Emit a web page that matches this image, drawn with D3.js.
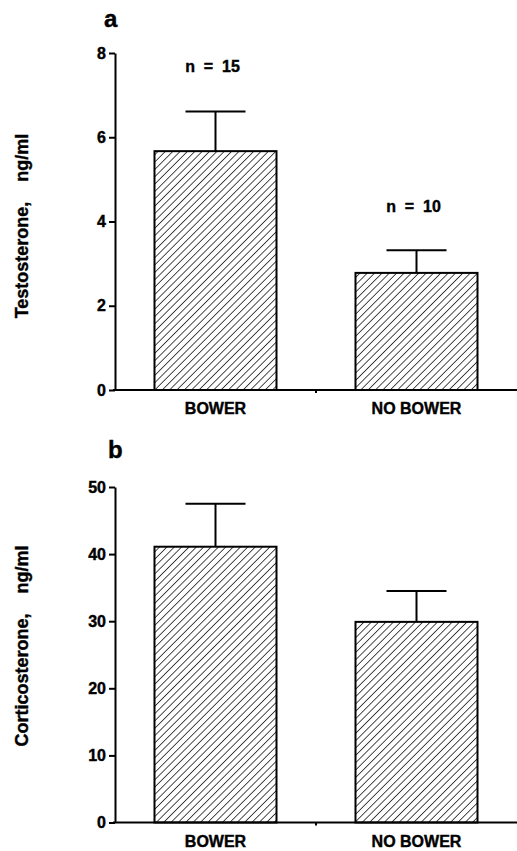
<!DOCTYPE html>
<html>
<head>
<meta charset="utf-8">
<script src="https://cdn.jsdelivr.net/npm/d3@7"></script>
<style>
  body { margin: 0; background: #fff; }
  text { font-family: 'Liberation Sans', Arial, sans-serif; font-weight: bold; fill: #000; stroke: #000; stroke-width: 0.4; }
  .axis path, .axis line { stroke: #000; stroke-width: 2; }
</style>
</head>
<body>
<svg id="chart" width="517" height="851"></svg>
<script>
// Data
var categories = ['BOWER', 'NO BOWER'];
var testosterone = [5.67, 2.78];
var testosteroneErr = [6.61, 3.32];   // top of error bar
var corticosterone = [41.1, 29.9];
var corticosteroneErr = [47.5, 34.5];
var sampleSizes = ['n  =  15', 'n  =  10'];
var testTicks = [0, 2, 4, 6, 8];
var cortTicks = [0, 10, 20, 30, 40, 50];

var svg = d3.select('#chart');

// hatch pattern for bars
var defs = svg.append('defs');
defs.append('pattern')
  .attr('id', 'hatch')
  .attr('patternUnits', 'userSpaceOnUse')
  .attr('width', 5.2)
  .attr('height', 5.2)
  .attr('patternTransform', 'rotate(45)')
  .append('line')
  .attr('x1', 0).attr('y1', 0)
  .attr('x2', 0).attr('y2', 5.2)
  .attr('stroke', '#000')
  .attr('stroke-width', 1.4);

var x = d3.scaleBand()
  .domain(categories)
  .range([115, 517])
  .paddingInner(0.393)
  .paddingOuter(0.1965);

function drawPanel(opts) {
  var y = d3.scaleLinear().domain(opts.domain).range(opts.range);
  var g = svg.append('g');

  // bars
  g.selectAll('.bar')
    .data(opts.values)
    .enter().append('rect')
    .attr('class', 'bar')
    .attr('x', function(d, i) { return x(categories[i]); })
    .attr('width', x.bandwidth())
    .attr('y', function(d) { return y(d); })
    .attr('height', function(d) { return y(0) - y(d); })
    .attr('fill', 'url(#hatch)')
    .attr('stroke', '#000')
    .attr('stroke-width', 2);

  // error bars
  opts.errs.forEach(function(e, i) {
    var cx = x(categories[i]) + x.bandwidth() / 2;
    g.append('line')
      .attr('x1', cx).attr('x2', cx)
      .attr('y1', y(opts.values[i])).attr('y2', y(e))
      .attr('stroke', '#000').attr('stroke-width', 2);
    g.append('line')
      .attr('x1', cx - 30).attr('x2', cx + 30)
      .attr('y1', y(e)).attr('y2', y(e))
      .attr('stroke', '#000').attr('stroke-width', 2);
  });

  // y axis
  var yAxis = d3.axisLeft(y).tickValues(opts.ticks).tickSize(6).tickSizeOuter(0).tickPadding(3);
  var ya = g.append('g')
    .attr('class', 'axis')
    .attr('transform', 'translate(115,0)')
    .call(yAxis);
  ya.selectAll('text').style('font-size', '16px');

  // x axis
  var xAxis = d3.axisBottom(x).tickSize(0).tickSizeOuter(0).tickPadding(13);
  var xa = g.append('g')
    .attr('class', 'axis')
    .attr('transform', 'translate(0,' + y(0) + ')')
    .call(xAxis);
  xa.selectAll('text').style('font-size', '16px');
  xa.select('.domain').attr('d', 'M113,0H517');
  // small mark between the categories
  xa.append('line')
    .attr('x1', x(categories[1]) - x.step() * x.paddingInner() / 2)
    .attr('x2', x(categories[1]) - x.step() * x.paddingInner() / 2)
    .attr('y1', 0).attr('y2', 3);

  // y label
  g.append('text')
    .attr('transform', 'translate(28,' + opts.labelY + ') rotate(-90)')
    .attr('text-anchor', 'middle')
    .style('font-size', '18px')
    .style('white-space', 'pre')
    .text(opts.label);

  // panel letter
  g.append('text')
    .attr('x', opts.letterX)
    .attr('y', opts.letterY)
    .style('font-size', '24px')
    .text(opts.letter);

  return y;
}

drawPanel({
  domain: [0, 8], range: [390, 53],
  values: testosterone, errs: testosteroneErr, ticks: testTicks,
  label: 'Testosterone,    ng/ml', labelY: 226,
  letter: 'a', letterX: 104, letterY: 27
});

// sample sizes above panel a bars
svg.selectAll('.nlabel')
  .data(sampleSizes)
  .enter().append('text')
  .attr('class', 'nlabel')
  .attr('x', function(d, i) { return x(categories[i]) + x.bandwidth() / 2 - 3; })
  .attr('y', function(d, i) { return i === 0 ? 72 : 212; })
  .attr('text-anchor', 'middle')
  .style('font-size', '16px')
  .style('white-space', 'pre')
  .text(function(d) { return d; });

drawPanel({
  domain: [0, 50], range: [822.5, 487],
  values: corticosterone, errs: corticosteroneErr, ticks: cortTicks,
  label: 'Corticosterone,    ng/ml', labelY: 646,
  letter: 'b', letterX: 108, letterY: 458
});
</script>
</body>
</html>
